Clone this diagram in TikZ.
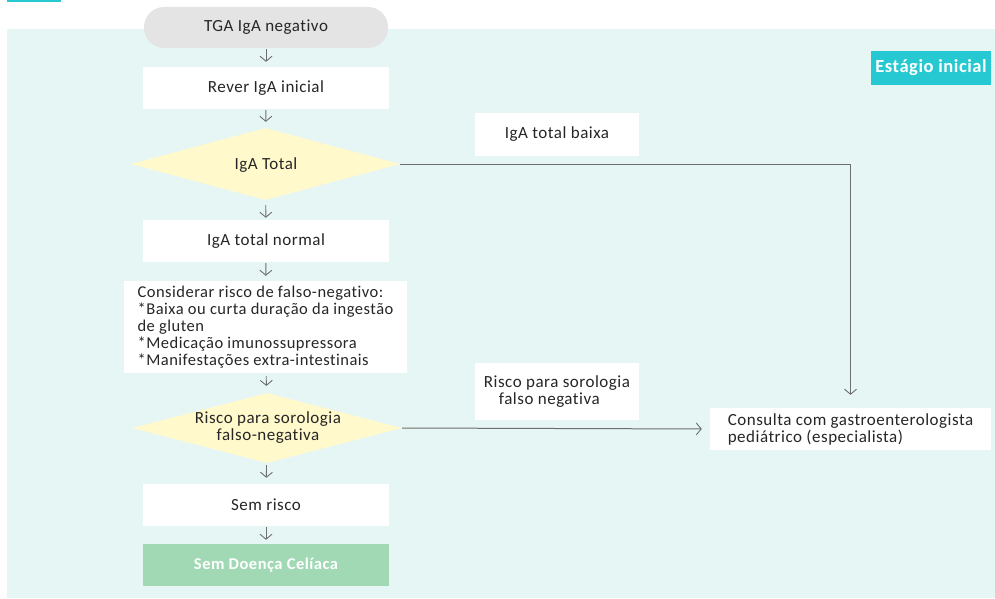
\documentclass[tikz,border=0pt]{standalone}
\usepackage{fontspec}
\setmainfont{Carlito}[LetterSpace=3, Ligatures=NoCommon, RawFeature={-liga;-dlig}]
\usetikzlibrary{shapes.geometric,arrows.meta}
\definecolor{bgteal}{HTML}{E6F6F5}
\definecolor{cyanlab}{HTML}{26C9D2}
\definecolor{pillgray}{HTML}{E5E4E5}
\definecolor{dyellow}{HTML}{FFF9CC}
\definecolor{okgreen}{HTML}{A0D9B4}
\definecolor{txt}{HTML}{262626}
\definecolor{lc}{HTML}{6E6E6E}
\begin{document}
\begin{tikzpicture}[x=1pt,y=-1pt,
  basefont/.style={font=\fontsize{17}{17}\selectfont, text=txt},
  box/.style={rectangle, fill=white, inner sep=0pt, minimum width=246pt, minimum height=42pt, basefont},
  dec/.style={diamond, fill=dyellow, inner sep=0pt, minimum width=269pt, minimum height=72pt},
  lab/.style={inner sep=0pt, basefont, align=center},
  flow/.style={draw=lc, line width=0.9pt, -{Straight Barb[length=5pt,width=12pt,line width=0.9pt]}},
  link/.style={draw=lc, line width=1pt, -{Straight Barb[length=5pt,width=12pt,line width=0.9pt]}}
]
\useasboundingbox (0,0) rectangle (995,599);
\fill[white] (0,0) rectangle (995,599);
\fill[bgteal] (7,29) rectangle (995,598);
\fill[cyanlab] (7,0) rectangle (61,2);

% left column
\node[rectangle, fill=pillgray, rounded corners=20pt, inner sep=0pt, minimum width=244pt, minimum height=41pt, basefont] (tga) at (266,27.5) {TGA IgA negativo};
\node[box] (rever) at (266,88) {Rever IgA inicial};
\node[dec] (igat) at (265.5,164) {};
\node[lab] (igatxt) at (266,165) {IgA Total};
\node[box] (normal) at (266,241) {IgA total normal};
\node[rectangle, fill=white, inner sep=0pt, minimum width=283pt, minimum height=92pt, align=left, font=\fontsize{16.5}{17}\selectfont, text=txt] (cons) at (265.5,327)
  {Considerar risco de falso-negativo:\\*Baixa ou curta duração da ingestão\\de gluten\\*Medicação imunossupressora\\*Manifestações extra-intestinais};
\node[dec, minimum width=270pt, minimum height=70pt] (risk) at (267,428) {};
\node[lab] (risktxt) at (268,428) {Risco para sorologia\\falso-negativa};
\node[box] (semr) at (266,505) {Sem risco};
\node[box, fill=okgreen, text=white, font=\bfseries\fontsize{16.5}{17}\selectfont] (semd) at (266,565) {Sem Doença Celíaca};

% right side
\node[rectangle, fill=cyanlab, text=white, inner sep=0pt, minimum width=120pt, minimum height=34pt, font=\bfseries\fontsize{18.5}{19}\selectfont] (stage) at (931,68) {Estágio inicial};
\node[rectangle, fill=white, inner sep=0pt, minimum width=164pt, minimum height=43pt, basefont] (baixa) at (557,134.5) {IgA total baixa};
\node[rectangle, fill=white, inner sep=0pt, minimum width=164pt, minimum height=57pt, basefont, align=left] (rlab) at (557,391.5) {Risco para sorologia\\\hspace*{15pt}falso negativa};
\node[rectangle, fill=white, inner sep=0pt, minimum width=281pt, minimum height=42pt, basefont, align=left] (gastro) at (850.5,429) {Consulta com gastroenterologista\\pediátrico (especialista)};

% connectors
\draw[flow, shorten <=1pt, shorten >=5pt] (tga) -- (rever);
\draw[flow, shorten <=1pt, shorten >=6pt] (rever) -- (igat);
\draw[flow, shorten <=5pt, shorten >=2pt] (igat) -- (normal);
\draw[flow, shorten <=1pt, shorten >=5pt] (normal) -- (cons);
\draw[flow, shorten <=3pt, shorten >=7pt] (cons) -- (risk);
\draw[flow, shorten <=2pt, shorten >=6pt] (risk) -- (semr);
\draw[flow, shorten <=1pt, shorten >=4pt] (semr) -- (semd);
\draw[link, shorten >=13pt] (igat.east) -| (gastro.north);
\draw[link, shorten >=8pt] (risk.east) -- (gastro.west);
\end{tikzpicture}
\end{document}
